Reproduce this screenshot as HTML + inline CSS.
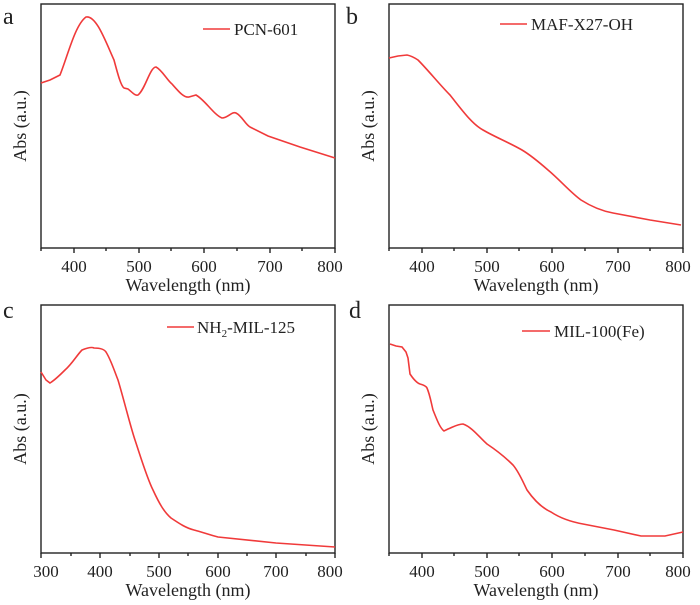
<!DOCTYPE html>
<html><head><style>body{margin:0;background:#fff}svg{display:block}text{font-family:"Liberation Serif",serif;fill:#222}</style></head>
<body>
<svg width="700" height="605" viewBox="0 0 700 605" xmlns="http://www.w3.org/2000/svg">
<g stroke="#222" stroke-width="1.4" fill="none">
<rect x="41" y="4" width="294" height="244"/>
<rect x="389" y="4" width="294" height="244"/>
<rect x="41" y="305" width="294" height="248"/>
<rect x="389" y="305" width="294" height="248"/>
<path d="M74 248v5M139 248v5M204 248v5M270 248v5M335 248v5M41 248v3M106 248v3M171 248v3M237 248v3M302 248v3"/>
<path d="M422 248v5M487 248v5M552 248v5M618 248v5M683 248v5M389 248v3M454 248v3M519 248v3M585 248v3M650 248v3"/>
<path d="M422 553v5M487 553v5M552 553v5M618 553v5M683 553v5M389 553v3M454 553v3M519 553v3M585 553v3M650 553v3"/>
<path d="M41 553v5M100 553v5M159 553v5M218 553v5M276 553v5M335 553v5M71 553v3M130 553v3M188 553v3M247 553v3M306 553v3"/>
</g>
<g stroke="#f03a3a" stroke-width="1.6" fill="none">
<path d="M41 83 L50 80 L60 75 C68 55 75 25 86 17 C96 15 105 40 114 60 C118 75 121 86 124 88 L128 89 C132 92 135 96 138 95 C145 90 150 67 156 67 C162 70 167 80 172 84 C179 92 184 98 189 97 L196 95 C205 100 214 115 222 118 C228 118 232 111 236 113 C242 116 245 124 250 127 C256 130 262 133 268 136 L300 147 L335 158"/>
<path d="M389 58 L398 56 L407 55 C412 56 415 58 418 60 C428 70 440 85 450 95 C462 110 472 124 483 130 C495 137 510 143 522 150 C532 156 540 163 548 170 C560 180 570 192 581 200 C592 207 602 211 613 213 L650 220 L681 225"/>
<path d="M41 372 L46 380 L50 383 C55 380 60 375 65 370 C72 364 77 355 82 350 C87 348 92 347 94 348 C100 348 104 349 106 352 C111 360 114 370 118 380 C124 400 130 425 135 440 C141 458 147 478 153 490 C159 503 164 512 171 518 C180 524 186 528 194 530 C202 532 210 535 218 537 L276 543 L335 547"/>
<path d="M390 344 L396 346 L402 347 L406 352 L408 358 L410 374 C414 380 417 383 420 384 C424 385 426 386 427 388 C430 395 431 402 433 410 C437 420 440 428 444 431 L448 429 C453 427 458 424 463 424 C472 427 480 438 487 444 C496 450 505 457 513 465 C519 472 523 482 527 490 C534 500 542 508 551 512 C560 518 572 522 583 524 L614 530 L641 536 L665 536 L683 532"/>
<path d="M203 29h27M500 24h27M167 327h27M522 331h28"/>
</g>
<g font-size="17">
<text x="234" y="35">PCN-601</text>
<text x="531" y="30">MAF-X27-OH</text>
<text x="197" y="333">NH<tspan font-size="11" dy="4">2</tspan><tspan dy="-4">-MIL-125</tspan></text>
<text x="554" y="337">MIL-100(Fe)</text>
</g>
<g font-size="24">
<text x="3" y="24">a</text><text x="346" y="24">b</text>
<text x="3" y="318">c</text><text x="349" y="318">d</text>
</g>
<g font-size="17" text-anchor="middle">
<text x="74" y="272">400</text><text x="139" y="272">500</text><text x="204" y="272">600</text><text x="270" y="272">700</text><text x="330" y="272">800</text>
<text x="422" y="272">400</text><text x="487" y="272">500</text><text x="552" y="272">600</text><text x="618" y="272">700</text><text x="678" y="272">800</text>
<text x="46" y="577">300</text><text x="100" y="577">400</text><text x="159" y="577">500</text><text x="218" y="577">600</text><text x="276" y="577">700</text><text x="330" y="577">800</text>
<text x="422" y="577">400</text><text x="487" y="577">500</text><text x="552" y="577">600</text><text x="618" y="577">700</text><text x="678" y="577">800</text>
<text x="188" y="291" font-size="18">Wavelength (nm)</text>
<text x="536" y="291" font-size="18">Wavelength (nm)</text>
<text x="188" y="596" font-size="18">Wavelength (nm)</text>
<text x="536" y="596" font-size="18">Wavelength (nm)</text>
<text transform="translate(26 126) rotate(-90)" font-size="18">Abs (a.u.)</text>
<text transform="translate(374 126) rotate(-90)" font-size="18">Abs (a.u.)</text>
<text transform="translate(26 429) rotate(-90)" font-size="18">Abs (a.u.)</text>
<text transform="translate(374 429) rotate(-90)" font-size="18">Abs (a.u.)</text>
</g>
</svg>
</body></html>
